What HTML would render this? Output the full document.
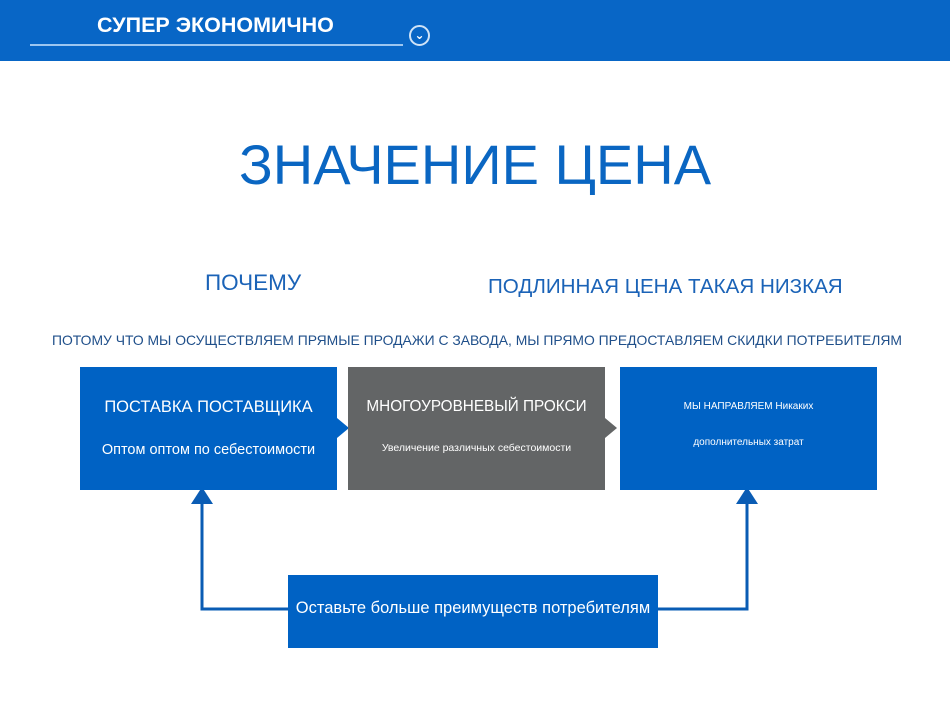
<!DOCTYPE html>
<html><head><meta charset="utf-8"><style>
body{margin:0;width:950px;height:723px;background:#fff;position:relative;overflow:hidden;font-family:"Liberation Sans","DejaVu Sans",sans-serif}
.a{position:absolute}
.box{position:absolute;color:#fff;text-align:center}
</style></head><body>
<div class="a" style="left:0;top:0;width:950px;height:61px;background:#0866c6"></div>
<div class="a" style="left:97px;top:13px;color:#fff;font-size:21.5px;font-weight:bold">СУПЕР ЭКОНОМИЧНО</div>
<div class="a" style="left:30px;top:44px;width:373px;height:2px;background:#9cc6f0"></div>
<div class="a" style="left:409px;top:25px;width:17px;height:17px;border:2px solid #cfe3f7;border-radius:50%;color:#fff;font-size:12px;line-height:17px;text-align:center;font-weight:bold">&#8964;</div>
<div class="a" style="left:0;top:132px;width:950px;text-align:center;color:#0a66c2;font-size:56px">ЗНАЧЕНИЕ ЦЕНА</div>
<div class="a" style="left:205px;top:270px;color:#1b63b7;font-size:22.5px">ПОЧЕМУ</div>
<div class="a" style="left:488px;top:275px;color:#1b63b7;font-size:20.6px">ПОДЛИННАЯ ЦЕНА ТАКАЯ НИЗКАЯ</div>
<div class="a" style="left:52px;top:332px;color:#1f4f8a;font-size:13.9px;white-space:nowrap">ПОТОМУ ЧТО МЫ ОСУЩЕСТВЛЯЕМ ПРЯМЫЕ ПРОДАЖИ С ЗАВОДА, МЫ ПРЯМО ПРЕДОСТАВЛЯЕМ СКИДКИ ПОТРЕБИТЕЛЯМ</div>
<svg class="a" style="left:0;top:0" width="950" height="723">
<polygon points="337,418 349,428 337,438" fill="#0062c4"/>
<polygon points="605,418 617,428 605,438" fill="#636566"/>
<polyline points="288,609 202,609 202,500" fill="none" stroke="#0a5cb4" stroke-width="3"/>
<polyline points="658,609 747,609 747,500" fill="none" stroke="#0a5cb4" stroke-width="3"/>
<polygon points="191,504 213,504 202,487" fill="#0a5cb4"/>
<polygon points="736,504 758,504 747,487" fill="#0a5cb4"/>
</svg>
<div class="box" style="left:80px;top:367px;width:257px;height:123px;background:#0062c4">
<div style="margin-top:31px;font-size:16.5px">ПОСТАВКА ПОСТАВЩИКА</div>
<div style="margin-top:25px;font-size:14.5px">Оптом оптом по себестоимости</div></div>
<div class="box" style="left:348px;top:367px;width:257px;height:123px;background:#636566">
<div style="margin-top:31px;font-size:15.3px">МНОГОУРОВНЕВЫЙ ПРОКСИ</div>
<div style="margin-top:26px;font-size:10.5px">Увеличение различных себестоимости</div></div>
<div class="box" style="left:620px;top:367px;width:257px;height:123px;background:#0062c4">
<div style="margin-top:34px;font-size:10px">МЫ НАПРАВЛЯЕМ Никаких</div>
<div style="margin-top:25px;font-size:10px">дополнительных затрат</div></div>
<div class="box" style="left:288px;top:575px;width:370px;height:73px;background:#0062c4;line-height:66px;font-size:16.5px;white-space:nowrap">Оставьте больше преимуществ потребителям</div>
</body></html>
